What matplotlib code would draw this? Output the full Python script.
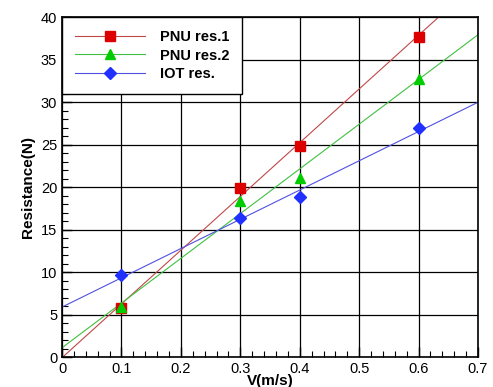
import numpy as np
import matplotlib.pyplot as plt
from matplotlib.ticker import MultipleLocator, FuncFormatter

plt.rcParams['font.family'] = ['Liberation Sans', 'DejaVu Sans']

# measured speeds and resistances
speed = [0.1, 0.3, 0.4, 0.6]
pnu_res1 = [5.8, 19.9, 24.8, 37.7]
pnu_res2 = [5.9, 18.3, 21.1, 32.7]
iot_res = [9.6, 16.3, 18.8, 27.0]

fig = plt.figure(figsize=(4.93, 3.87), dpi=100)
ax = fig.add_axes([0.1258, 0.0775, 0.8438, 0.8785])

xfit = np.array([0.0, 0.7])
series = [
    (pnu_res1, "PNU res.1", "#c04848", "#dd0000", "s"),
    (pnu_res2, "PNU res.2", "#40c040", "#00cc00", "^"),
    (iot_res, "IOT res.", "#5050e0", "#2030ff", "D"),
]
for vals, label, lc, mc, mk in series:
    # linear trend through the measured points
    k, b = np.polyfit(speed, vals, 1)
    ax.plot(xfit, k * xfit + b, color=lc, lw=0.8, zorder=2)
    ms = 7 if mk != "D" else 6.5
    ax.plot(speed, vals, linestyle="none", marker=mk, ms=ms,
            color=mc, markeredgecolor=mc, zorder=3)
    # legend handle: line + marker
    ax.plot([], [], color=lc, lw=0.8, marker=mk, ms=ms,
            markerfacecolor=mc, markeredgecolor=mc, label=label)

ax.set_xlim(0, 0.7)
ax.set_ylim(0, 40)
ax.xaxis.set_major_locator(MultipleLocator(0.1))
ax.xaxis.set_minor_locator(MultipleLocator(0.02))
ax.yaxis.set_major_locator(MultipleLocator(5))
ax.yaxis.set_minor_locator(MultipleLocator(1))
ax.xaxis.set_major_formatter(FuncFormatter(lambda v, p: "0" if abs(v) < 1e-9 else f"{v:.1f}"))
ax.tick_params(which="major", direction="in", length=7, width=1, labelsize=10.5)
ax.tick_params(which="minor", direction="in", length=4, width=0.8)
ax.grid(True, which="major", color="black", lw=0.9, zorder=1)
ax.set_axisbelow(True)
for s in ax.spines.values():
    s.set_linewidth(1.2)

ax.set_xlabel("V(m/s)", fontsize=11, fontweight="bold", labelpad=-1)
ax.set_ylabel("Resistance(N)", fontsize=11, fontweight="bold", labelpad=4)

leg = ax.legend(loc="upper left", bbox_to_anchor=(0, 1), borderaxespad=0,
                fancybox=False, framealpha=1, edgecolor="black",
                prop={"weight": "bold", "size": 10.5}, handlelength=4.8,
                borderpad=0.9, labelspacing=0.3, handletextpad=1.0)
leg.get_frame().set_linewidth(1.0)
leg.set_zorder(5)

plt.savefig("out.png", dpi=100)
